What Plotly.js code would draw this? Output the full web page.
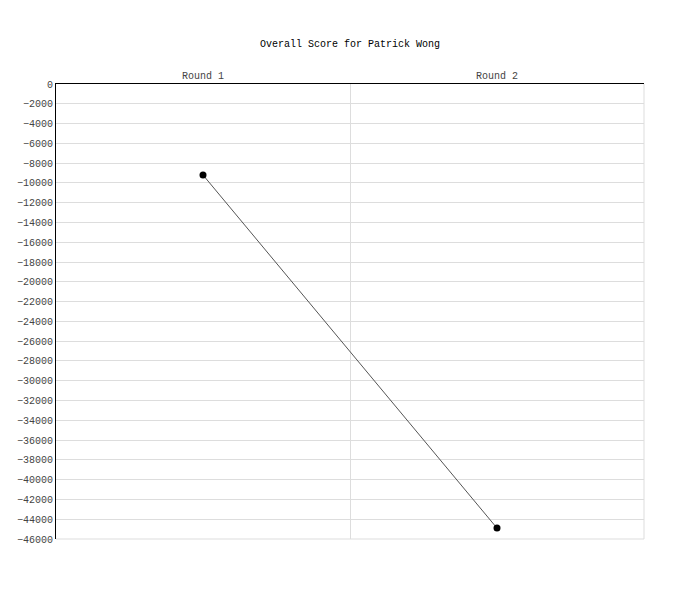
<!DOCTYPE html>
<html>
<head>
<meta charset="utf-8">
<script src="https://cdn.plot.ly/plotly-3.0.1.min.js"></script>
<style>body{margin:0;background:#fff;}</style>
</head>
<body>
<div id="chart" style="width:700px;height:600px;"></div>
<script>
var rounds = ['Round 1', 'Round 2'];
var scores = [-9200, -44900];

var trace = {
    x: rounds,
    y: scores,
    mode: 'lines+markers',
    type: 'scatter',
    line: { color: '#555', width: 1 },
    marker: { color: '#000', size: 7 },
    hoverinfo: 'x+y'
};

var monoFont = 'Liberation Mono, DejaVu Sans Mono, monospace';

var layout = {
    width: 700,
    height: 600,
    plot_bgcolor: '#fff',
    paper_bgcolor: '#fff',
    font: { family: monoFont, size: 10, color: '#333' },
    title: {
        text: 'Overall Score for Patrick Wong',
        x: 0.5,
        xanchor: 'center',
        y: 0.928,
        yanchor: 'middle',
        font: { family: monoFont, size: 10, color: '#000' }
    },
    xaxis: {
        side: 'top',
        type: 'category',
        range: [-0.5, 1.5],
        tickson: 'boundaries',
        ticks: '',
        showgrid: true,
        gridcolor: '#ddd',
        showline: true,
        linecolor: '#000',
        linewidth: 1,
        zeroline: false,
        tickfont: { color: '#444' }
    },
    yaxis: {
        range: [-46000, 0],
        dtick: 2000,
        tickformat: 'd',
        ticks: '',
        showgrid: true,
        gridcolor: '#ddd',
        showline: true,
        linecolor: '#000',
        linewidth: 1,
        zeroline: false,
        tickfont: { color: '#444' }
    },
    // light frame on the right and bottom edges of the plot area
    shapes: [
        { type: 'line', xref: 'paper', yref: 'paper', x0: 1, x1: 1, y0: 0, y1: 1,
          line: { color: '#ddd', width: 1 }, layer: 'below' },
        { type: 'line', xref: 'paper', yref: 'paper', x0: 0, x1: 1, y0: 0, y1: 0,
          line: { color: '#ddd', width: 1 }, layer: 'below' }
    ],
    margin: { l: 56, r: 56, t: 84, b: 61 },
    showlegend: false
};

Plotly.newPlot('chart', [trace], layout, { displayModeBar: false });
</script>
</body>
</html>
